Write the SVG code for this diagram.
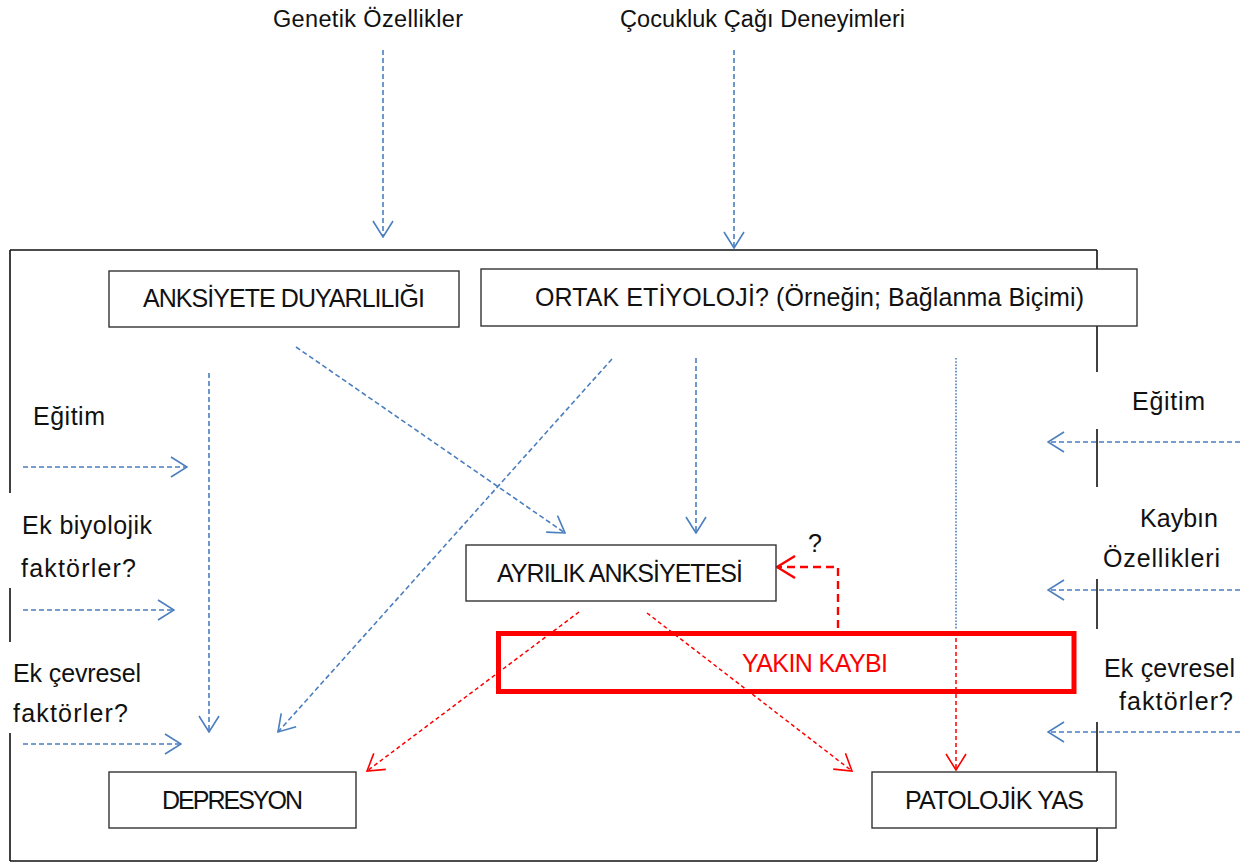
<svg xmlns="http://www.w3.org/2000/svg" width="1250" height="862" viewBox="0 0 1250 862">
<style>
text{font-family:"Liberation Sans",Arial,sans-serif;font-size:25px;fill:#111;lengthAdjust:spacingAndGlyphs}
.sm{font-size:23.5px}
.box{fill:#fff;stroke:#333;stroke-width:1.4}
.frame{stroke:#111;stroke-width:1.6;fill:none}
.b{stroke:#4a7ebf;stroke-width:1.6;fill:none;stroke-dasharray:5 3;marker-end:url(#aB)}
.dot{stroke:#4a7ebf;stroke-width:1.6;fill:none;stroke-dasharray:1.6 1.6}
.r{stroke:#ff0000;stroke-width:1.5;fill:none;stroke-dasharray:4 3;marker-end:url(#aR)}
</style>
<defs>
<marker id="aB" viewBox="0 0 18 22" refX="17" refY="11" markerWidth="18" markerHeight="22" markerUnits="userSpaceOnUse" orient="auto">
<path d="M1,1 L17,11 L1,21" fill="none" stroke="#4a7ebf" stroke-width="1.6"/>
</marker>
<marker id="aR" viewBox="0 0 18 22" refX="17" refY="11" markerWidth="18" markerHeight="22" markerUnits="userSpaceOnUse" orient="auto">
<path d="M1,1 L17,11 L1,21" fill="none" stroke="#ff0000" stroke-width="1.6"/>
</marker>
<marker id="aR2" viewBox="0 0 20 24" refX="19" refY="12" markerWidth="20" markerHeight="24" markerUnits="userSpaceOnUse" orient="auto">
<path d="M1,1 L19,12 L1,23" fill="none" stroke="#ff0000" stroke-width="2.4"/>
</marker>
</defs>

<g id="frame">
<line class="frame" x1="10" y1="250" x2="1097" y2="250"/>
<line class="frame" x1="10" y1="861" x2="1097" y2="861"/>
<line class="frame" x1="10" y1="250" x2="10" y2="493"/>
<line class="frame" x1="10" y1="588" x2="10" y2="642"/>
<line class="frame" x1="10" y1="733" x2="10" y2="861"/>
<line class="frame" x1="1097" y1="250" x2="1097" y2="372"/>
<line class="frame" x1="1097" y1="429" x2="1097" y2="487"/>
<line class="frame" x1="1097" y1="579" x2="1097" y2="629"/>
<line class="frame" x1="1097" y1="722" x2="1097" y2="861"/>
</g>

<g id="labels">
<text class="sm" x="273" y="27" textLength="190">Genetik Özellikler</text>
<text class="sm" x="620" y="27" textLength="285">Çocukluk Çağı Deneyimleri</text>
<text x="33" y="425" textLength="72">Eğitim</text>
<text x="22" y="534" textLength="130">Ek biyolojik</text>
<text x="21" y="577" textLength="115">faktörler?</text>
<text x="13" y="682" textLength="128">Ek çevresel</text>
<text x="13" y="722" textLength="115">faktörler?</text>
<text x="1132" y="410" textLength="73">Eğitim</text>
<text x="1140" y="527" textLength="78">Kaybın</text>
<text x="1103" y="567" textLength="117">Özellikleri</text>
<text x="1104" y="677" textLength="131">Ek çevresel</text>
<text x="1119" y="710" textLength="114">faktörler?</text>
<text x="808" y="552">?</text>
</g>

<g id="connectors">
<line class="b" x1="383" y1="50" x2="383" y2="237"/>
<line class="b" x1="734" y1="50" x2="734" y2="248"/>
<line class="b" x1="209" y1="373" x2="209" y2="732"/>
<line class="b" x1="296" y1="347" x2="565" y2="533"/>
<line class="b" x1="612" y1="359" x2="278" y2="732"/>
<line class="b" x1="696" y1="358" x2="696" y2="533"/>
<line class="dot" x1="956" y1="358" x2="956" y2="630"/>
<line class="b" x1="23" y1="467" x2="187" y2="467"/>
<line class="b" x1="23" y1="610" x2="174" y2="610"/>
<line class="b" x1="23" y1="744" x2="181" y2="744"/>
<line class="b" x1="1240" y1="442" x2="1048" y2="442"/>
<line class="b" x1="1240" y1="590" x2="1048" y2="590"/>
<line class="b" x1="1240" y1="732" x2="1048" y2="732"/>
<line class="r" x1="579" y1="612" x2="367" y2="771"/>
<line class="r" x1="647" y1="613" x2="852" y2="771"/>
<line class="r" x1="956" y1="631" x2="956" y2="770"/>
<path d="M838,628 V567 H777" fill="none" stroke="#ff0000" stroke-width="2.4" stroke-dasharray="8 5" marker-end="url(#aR2)"/>
<line x1="840" y1="634" x2="905" y2="634" stroke="#e8b0b0" stroke-width="3" stroke-dasharray="8 10" opacity="0.6"/>
</g>

<g id="anksiyete-duyarliligi">
<rect class="box" x="109" y="271" width="350" height="56"/>
<text x="143" y="307" textLength="282">ANKSİYETE DUYARLILIĞI</text>
</g>
<g id="ortak-etiyoloji">
<rect class="box" x="481" y="269" width="656" height="57"/>
<text x="535" y="306" textLength="549">ORTAK ETİYOLOJİ? (Örneğin; Bağlanma Biçimi)</text>
</g>
<g id="ayrilik-anksiyetesi">
<rect class="box" x="466" y="545" width="310" height="56"/>
<text x="497" y="582" textLength="246">AYRILIK ANKSİYETESİ</text>
</g>
<g id="yakin-kaybi">
<rect x="498.5" y="633.5" width="575.5" height="58" fill="none" stroke="#ff0000" stroke-width="5"/>
<text x="742" y="672" textLength="146" style="fill:#ff0000">YAKIN KAYBI</text>
</g>
<g id="depresyon">
<rect class="box" x="109" y="772" width="247" height="56"/>
<text x="162" y="809" textLength="141">DEPRESYON</text>
</g>
<g id="patolojik-yas">
<rect class="box" x="872" y="772" width="244" height="56"/>
<text x="905" y="809" textLength="179">PATOLOJİK YAS</text>
</g>
</svg>
